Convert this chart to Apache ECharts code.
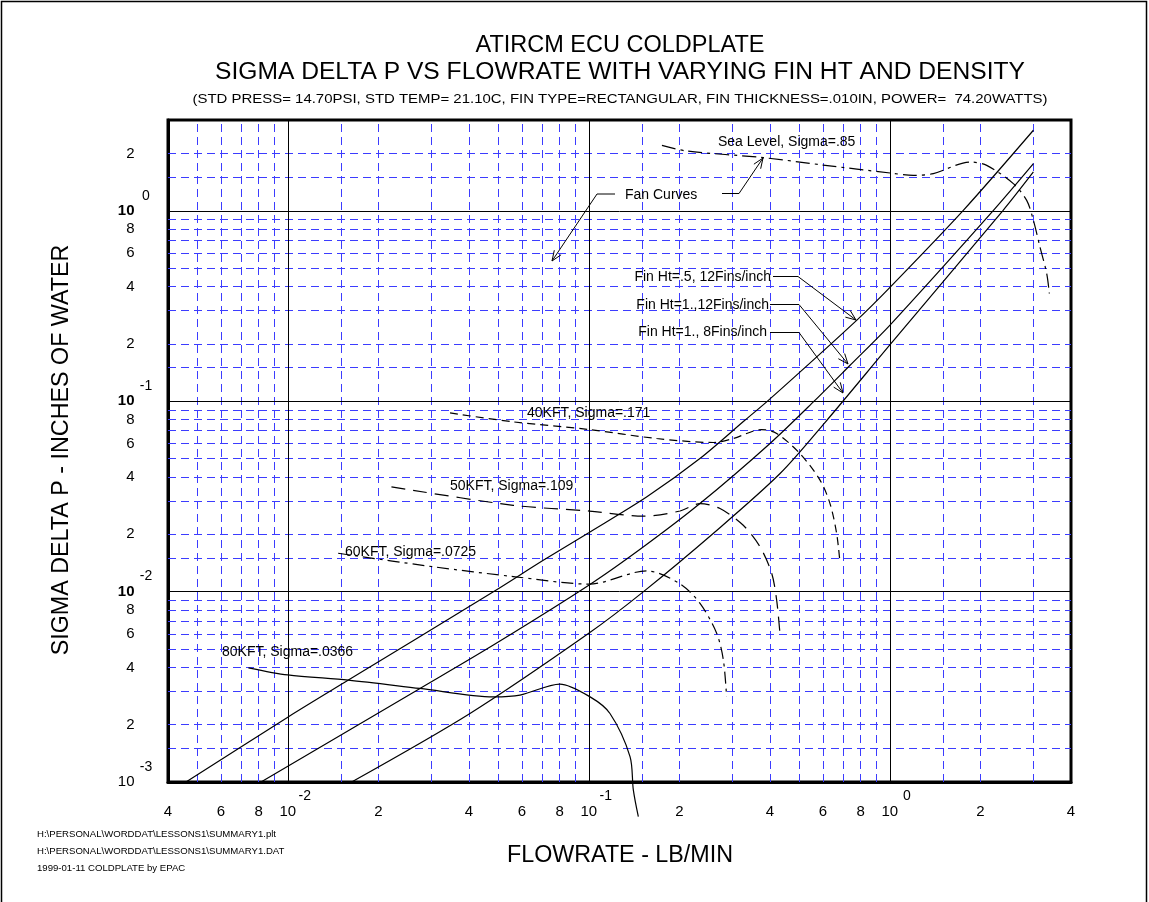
<!DOCTYPE html>
<html>
<head>
<meta charset="utf-8">
<script src="https://cdn.jsdelivr.net/npm/echarts@6/dist/echarts.min.js"></script>
<style>
html,body{margin:0;padding:0;background:#fff;}
#chart{width:1149px;height:902px;}
</style>
</head>
<body>
<div id="chart"></div>
<script>
// ---------- DATA ----------
const X_MIN = 0.004, X_MAX = 4;
const Y_MIN = 0.001, Y_MAX = 3;

// Fin pressure-drop curves [flowrate lb/min, sigma dP in H2O]
const finHt05_12 = [[0.00459,0.001],[0.01,0.00219],[0.0159,0.00343],[0.0482,0.00998],[0.0706,0.0146],[0.1,0.0204],[0.156,0.0315],[0.234,0.05],[0.33,0.0794],[0.395,0.101],[0.776,0.266],[1.007,0.40],[1.755,1.006],[3.0,2.65]];
const finHt1_12  = [[0.00815,0.001],[0.0275,0.0031],[0.0482,0.00524],[0.1,0.0108],[0.152,0.0172],[0.234,0.029],[0.40,0.06],[0.564,0.101],[0.738,0.1545],[1.007,0.2535],[2.21,1.006],[3.0,1.77]];
const finHt1_8   = [[0.0163,0.001],[0.0403,0.00229],[0.1,0.00604],[0.152,0.01],[0.259,0.0202],[0.432,0.0417],[0.61,0.0775],[1.007,0.20],[2.38,1.006],[3.0,1.6]];

// Fan curves
const fanSeaLevel = [[0.175,2.207],[0.2115,2.061],[0.38,1.903],[0.6,1.74],[1.007,1.579],[1.197,1.536],[1.395,1.568],[1.848,1.804],[2.099,1.733],[2.573,1.389],[2.85,1.135],[3.0,0.892],[3.155,0.646],[3.322,0.468],[3.389,0.368]];
const fan40k = [[0.0346,0.0868],[0.0561,0.0779],[0.1004,0.071],[0.168,0.0637],[0.2593,0.0607],[0.302,0.0637],[0.375,0.071],[0.421,0.0677],[0.503,0.0531],[0.5865,0.0385],[0.633,0.029],[0.666,0.0202],[0.683,0.0143]];
const fan50k = [[0.0221,0.0355],[0.0561,0.0284],[0.1004,0.0265],[0.1518,0.0249],[0.2009,0.0265],[0.2342,0.029],[0.2729,0.0273],[0.326,0.0223],[0.3705,0.0172],[0.4052,0.0125],[0.421,0.009],[0.4317,0.006]];
const fan60k = [[0.0147,0.0159],[0.0305,0.0135],[0.0561,0.012],[0.1004,0.01095],[0.1557,0.01285],[0.2009,0.011],[0.2342,0.00867],[0.266,0.00604],[0.28,0.00437],[0.287,0.0028]];
const fan80k = [[0.0074,0.00398],[0.01,0.00365],[0.0159,0.00343],[0.0275,0.0031],[0.0482,0.0028],[0.0591,0.00286],[0.0802,0.00327],[0.101,0.0028],[0.1176,0.00229],[0.1371,0.00136],[0.1406,0.00091],[0.1461,0.000657]];

// Grid lines
const decades = [0.001, 0.01, 0.1, 1];
const minorMultipliers = [1.5, 2, 3, 4, 5, 6, 7, 8, 9];

// Tick labels
const xTickValues = [0.004,0.006,0.008,0.01,0.02,0.04,0.06,0.08,0.1,0.2,0.4,0.6,0.8,1,2,4];
const xTickLabels = ['4','6','8','10','2','4','6','8','10','2','4','6','8','10','2','4'];
const xExpValues = [0.01, 0.1, 1];
const xExpLabels = ['-2','-1','0'];
const yTickValues = [0.001,0.002,0.004,0.006,0.008,0.01,0.02,0.04,0.06,0.08,0.1,0.2,0.4,0.6,0.8,1,2];
const yTickLabels = ['10','2','4','6','8','10','2','4','6','8','10','2','4','6','8','10','2'];
const yExpValues = [0.001, 0.01, 0.1, 1];
const yExpLabels = ['-3','-2','-1','0'];

// Texts
const titleLines = ['ATIRCM ECU COLDPLATE','SIGMA DELTA P VS FLOWRATE WITH VARYING FIN HT AND DENSITY','(STD PRESS= 14.70PSI, STD TEMP= 21.10C, FIN TYPE=RECTANGULAR, FIN THICKNESS=.010IN, POWER=  74.20WATTS)'];
const xTitle = 'FLOWRATE - LB/MIN';
const yTitle = 'SIGMA DELTA P - INCHES OF WATER';
const footerLines = ['H:\\PERSONAL\\WORDDAT\\LESSONS1\\SUMMARY1.plt','H:\\PERSONAL\\WORDDAT\\LESSONS1\\SUMMARY1.DAT','1999-01-11 COLDPLATE by EPAC'];
const curveLabels = ['Sea Level, Sigma=.85','Fan Curves','Fin Ht=.5, 12Fins/inch','Fin Ht=1.,12Fins/inch','Fin Ht=1., 8Fins/inch','40KFT, Sigma=.171','50KFT, Sigma=.109','60KFT, Sigma=.0725','80KFT, Sigma=.0366'];

// ---------- CHART ----------
const FONT = "'Liberation Sans', Arial, Helvetica, sans-serif";
const chart = echarts.init(document.getElementById('chart'), null, {renderer:'canvas'});

const GRID_BLUE = 'rgb(60,60,255)';
const minorSegs = [], majorSegs = [];
decades.forEach(d => {
  minorMultipliers.forEach(m => {
    const v = d * m;
    if (v > X_MIN && v < X_MAX) minorSegs.push({coords:[[v, Y_MIN],[v, Y_MAX]]});
    if (v > Y_MIN && v < Y_MAX) minorSegs.push({coords:[[X_MIN, v],[X_MAX, v]]});
  });
  if (d > X_MIN && d < X_MAX) majorSegs.push({coords:[[d, Y_MIN],[d, Y_MAX]]});
  if (d > Y_MIN && d < Y_MAX) majorSegs.push({coords:[[X_MIN, d],[X_MAX, d]]});
});

function curve(name, data, dash) {
  return {
    name, type:'line', data, showSymbol:false, symbol:'none', smooth:0.3,
    clip:false, silent:true, z:5,
    lineStyle:{color:'#000', width:1.2, type: dash || 'solid'}
  };
}

const series = [
  {type:'lines', coordinateSystem:'cartesian2d', polyline:false, silent:true, z:1, data:minorSegs,
   lineStyle:{color:GRID_BLUE, width:1, type:[8,5], opacity:1}},
  {type:'lines', coordinateSystem:'cartesian2d', polyline:false, silent:true, z:2, data:majorSegs,
   lineStyle:{color:'#000', width:1, type:'solid', opacity:1}},
  curve('finA', finHt05_12),
  curve('finB', finHt1_12),
  curve('finC', finHt1_8),
  curve('sea', fanSeaLevel, [14,5,3,5]),
  curve('k40', fan40k, [8,5]),
  curve('k50', fan50k, [14,8]),
  curve('k60', fan60k, [12,5,3,5]),
  curve('k80', fan80k, 'solid')
];

const option = {
  animation:false,
  backgroundColor:'#fff',
  grid:{left:168, right:78, top:120, bottom:120, show:true, borderWidth:3, borderColor:'#000', backgroundColor:'transparent'},
  xAxis:{type:'log', logBase:10, min:X_MIN, max:X_MAX,
    axisLine:{show:true, lineStyle:{color:'#000', width:3}}, axisTick:{show:false}, axisLabel:{show:false},
    splitLine:{show:false}, minorTick:{show:false}, minorSplitLine:{show:false}},
  yAxis:{type:'log', logBase:10, min:Y_MIN, max:Y_MAX,
    axisLine:{show:true, lineStyle:{color:'#000', width:3}}, axisTick:{show:false}, axisLabel:{show:false},
    splitLine:{show:false}, minorTick:{show:false}, minorSplitLine:{show:false}},
  series
};
chart.setOption(option);

// ---------- TEXT & ANNOTATIONS (graphic) ----------
function txt(text, x, y, size, align, extra, weight) {
  return Object.assign({type:'text', x, y, silent:true, z:100,
    style:{text, fill:'#000', font: (weight ? weight + ' ' : '') + size + 'px ' + FONT, textAlign: align || 'left', textVerticalAlign:'middle'}}, extra || {});
}
function arrow(pts) {
  const els = [{type:'polyline', silent:true, z:100, shape:{points:pts}, style:{stroke:'#000', lineWidth:1, fill:null}}];
  const n = pts.length, p = pts[n-1], q = pts[n-2];
  const dx = p[0]-q[0], dy = p[1]-q[1], L = Math.hypot(dx,dy), ux = dx/L, uy = dy/L;
  const len = 11, a = 0.38;
  const h1 = [p[0] - len*(ux*Math.cos(a) - uy*Math.sin(a)), p[1] - len*(uy*Math.cos(a) + ux*Math.sin(a))];
  const h2 = [p[0] - len*(ux*Math.cos(-a) - uy*Math.sin(-a)), p[1] - len*(uy*Math.cos(-a) + ux*Math.sin(-a))];
  els.push({type:'polyline', silent:true, z:100, shape:{points:[h1,p,h2]}, style:{stroke:'#000', lineWidth:1, fill:null}});
  return els;
}
const toPx = (x, y) => chart.convertToPixel({gridIndex:0}, [x, y]);

let g = [];
g.push({type:'rect', silent:true, z:0, shape:{x:1.5, y:1.5, width:1145, height:960}, style:{stroke:'#000', lineWidth:1.5, fill:null}});
g.push(txt(titleLines[0], 620, 46, 23.5, 'center'));
g.push(txt(titleLines[1], 620, 73, 23, 'center', {scaleX:1.07, scaleY:1, originX:0, originY:0}));
g.push(txt(titleLines[2], 620, 99, 13, 'center', {scaleX:1.15, scaleY:1, originX:0, originY:0}));
g.push(txt(xTitle, 620, 856, 23.3, 'center'));
g.push(txt(yTitle, 62, 450, 23.3, 'center', {rotation: Math.PI/2}));
footerLines.forEach((t,i) => g.push(txt(t, 37, 834 + i*17, 9.6, 'left')));

// tick labels positioned through the axes
xTickValues.forEach((v,i) => { const p = toPx(v, Y_MIN); g.push(txt(xTickLabels[i], p[0], 812, 15, 'center')); });
xExpValues.forEach((v,i) => { const p = toPx(v, Y_MIN); g.push(txt(xExpLabels[i], p[0] + 17, 796, 14, 'center')); });
yTickValues.forEach((v,i) => { const p = toPx(X_MIN, v);
  g.push(txt(yTickLabels[i], 134.5, p[1], 15, 'right', null, (yTickLabels[i] === '10' && v > Y_MIN) ? 'bold' : null)); });
yExpValues.forEach((v,i) => { const p = toPx(X_MIN, v); g.push(txt(yExpLabels[i], 146, p[1] - 15, 14, 'center')); });

// curve annotations
g.push(txt(curveLabels[0], 718, 142, 14, 'left'));
g.push(txt(curveLabels[1], 625, 195, 14, 'left'));
g.push(txt(curveLabels[2], 771, 277, 14, 'right'));
g.push(txt(curveLabels[3], 769, 305, 14, 'right'));
g.push(txt(curveLabels[4], 767, 332, 14, 'right'));
g.push(txt(curveLabels[5], 527, 413, 14, 'left'));
g.push(txt(curveLabels[6], 450, 486, 14, 'left'));
g.push(txt(curveLabels[7], 345, 552, 14, 'left'));
g.push(txt(curveLabels[8], 222, 652, 14, 'left'));

g = g.concat(arrow([[615,194],[597,194],[552,261]]));
g = g.concat(arrow([[722,193.5],[739,193.5],[763,158]]));
g = g.concat(arrow([[773,276.5],[798,276.5],[856,320]]));
g = g.concat(arrow([[770,304.5],[799,304.5],[848,364]]));
g = g.concat(arrow([[770,332.5],[799,332.5],[843,393]]));

chart.setOption({graphic:{elements:g}});
</script>
</body>
</html>
